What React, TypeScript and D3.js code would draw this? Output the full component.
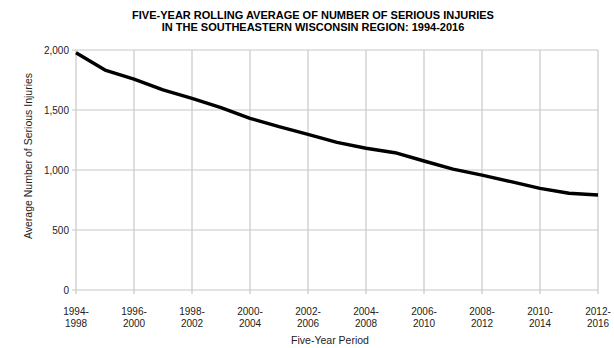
import React from "react";
import * as d3 from "d3";

// Five-year rolling periods, 1994-1998 through 2012-2016
const periodStarts = d3.range(1994, 2013);
const seriousInjuries = [
  1977, 1833, 1758, 1667, 1597, 1519, 1431, 1361, 1297, 1230,
  1181, 1144, 1075, 1008, 958, 903, 847, 806, 792,
];
const yTicks = [0, 500, 1000, 1500, 2000];
const titleLines = [
  "FIVE-YEAR ROLLING AVERAGE OF NUMBER OF SERIOUS INJURIES",
  "IN THE SOUTHEASTERN WISCONSIN REGION: 1994-2016",
];

const W = 614;
const H = 348;
const margin = { left: 76, right: 16, top: 50, bottom: 58 };
const font = "'Liberation Sans', Arial, sans-serif";

export default function App() {
  const x = d3
    .scaleLinear()
    .domain([0, periodStarts.length - 1])
    .range([margin.left, W - margin.right]);
  const y = d3
    .scaleLinear()
    .domain([0, 2000])
    .range([H - margin.bottom, margin.top]);

  const line = d3
    .line<number>()
    .x((_, i) => x(i))
    .y((d) => y(d));

  const labelled = periodStarts
    .map((s, i) => ({ s, i }))
    .filter((d) => d.i % 2 === 0);

  const plotBottom = y(0);
  const plotTop = y(2000);

  return (
    <svg
      width={W}
      height={H}
      style={{ position: "absolute", left: 0, top: 0, background: "#fff" }}
      fontFamily={font}
    >
      {/* title */}
      {titleLines.map((t, k) => (
        <text
          key={t}
          x={313}
          y={18.8 + k * 12.3}
          textAnchor="middle"
          fontSize={11}
          fontWeight="bold"
          fill="#000"
        >
          {t}
        </text>
      ))}

      {/* horizontal gridlines */}
      {yTicks.map((t) => (
        <g key={t}>
          <line
            x1={margin.left - 4}
            x2={W - margin.right}
            y1={y(t)}
            y2={y(t)}
            stroke="#c8c8c8"
            strokeWidth={1.2}
          />
          <text
            x={69}
            y={y(t) + 3.5}
            textAnchor="end"
            fontSize={10}
            fill="#222"
          >
            {d3.format(",")(t)}
          </text>
        </g>
      ))}

      {/* vertical gridlines and period labels */}
      {labelled.map(({ s, i }) => (
        <g key={s}>
          <line
            x1={x(i)}
            x2={x(i)}
            y1={plotTop}
            y2={plotBottom + 4}
            stroke="#c8c8c8"
            strokeWidth={1.2}
          />
          <text
            x={x(i)}
            y={315}
            textAnchor="middle"
            fontSize={10}
            fill="#222"
          >
            <tspan x={x(i)}>{`${s}-`}</tspan>
            <tspan x={x(i)} dy={11.5}>{`${s + 4}`}</tspan>
          </text>
        </g>
      ))}

      {/* series */}
      <path
        d={line(seriousInjuries) ?? ""}
        fill="none"
        stroke="#000"
        strokeWidth={3.4}
        strokeLinejoin="round"
      />

      {/* axis titles */}
      <text
        x={330}
        y={344}
        textAnchor="middle"
        fontSize={10.5}
        fill="#222"
      >
        Five-Year Period
      </text>
      <text
        transform={`translate(32, 156) rotate(-90)`}
        textAnchor="middle"
        fontSize={10.5}
        fill="#222"
      >
        Average Number of Serious Injuries
      </text>
    </svg>
  );
}
